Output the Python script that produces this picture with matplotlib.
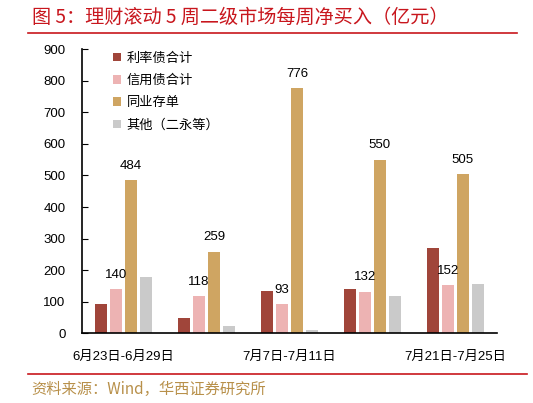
import matplotlib.pyplot as plt
import numpy as np

plt.rcParams['font.family'] = ['Liberation Sans', 'Noto Sans CJK SC', 'DejaVu Sans']

weeks = ["6月23日-6月29日", "6月30日-7月4日", "7月7日-7月11日", "7月14日-7月18日", "7月21日-7月25日"]
series_names = ["利率债合计", "信用债合计", "同业存单", "其他（二永等）"]
rate_bonds = [94, 47, 133, 141, 269]
credit_bonds = [140, 118, 93, 132, 152]
ncd = [484, 259, 776, 550, 505]
others = [178, 24, 9, 118, 156]
colors = ["#A0453A", "#EDB3B3", "#CFA562", "#CACACA"]

fig = plt.figure(figsize=(5.33, 4.03), dpi=100)
ax = fig.add_axes([0.154, 0.173, 0.778, 0.705])

x = np.arange(len(weeks))
w = 0.145
step = 0.18
all_series = [rate_bonds, credit_bonds, ncd, others]
bars = []
for i, vals in enumerate(all_series):
    b = ax.bar(x + (i - 1.5) * step, vals, width=w, color=colors[i], label=series_names[i])
    bars.append(b)

# labels only on credit bonds and NCD
for b in (bars[1], bars[2]):
    for rect in b:
        h = rect.get_height()
        ax.annotate(f"{h:.0f}", (rect.get_x() + rect.get_width() / 2, h),
                    xytext=(0, 6), textcoords="offset points",
                    ha="center", va="bottom", fontsize=9.5)

ax.set_xlim(-0.5, 4.5)
ax.set_ylim(0, 900)
ax.set_yticks(range(0, 901, 100))
ax.set_xticks(x[::2])
ax.set_xticklabels(weeks[::2])
ax.tick_params(axis='y', direction='in', length=4, pad=12, labelsize=9.5)
ax.tick_params(axis='x', length=0, pad=13, labelsize=9.5)
ax.spines['top'].set_visible(False)
ax.spines['right'].set_visible(False)
ax.spines['left'].set_linewidth(1.2)
ax.spines['bottom'].set_linewidth(1.2)

leg = ax.legend(loc='upper left', bbox_to_anchor=(0.045, 1.03), frameon=False,
                handlelength=0.6, handleheight=0.6, handletextpad=0.45,
                labelspacing=0.75, fontsize=9.5)

fig.text(0.06, 0.958, "图 5：理财滚动 5 周二级市场每周净买入（亿元）", color="#C8161D",
         fontsize=13.8, va="center", ha="left", family=['Noto Sans CJK SC', 'DejaVu Sans'])
fig.add_artist(plt.Line2D([0.053, 0.97], [0.918, 0.918], color="#C8161D", lw=1.2, transform=fig.transFigure))
fig.add_artist(plt.Line2D([0.053, 0.988], [0.071, 0.071], color="#C8161D", lw=1.2, transform=fig.transFigure))
fig.text(0.058, 0.033, "资料来源：Wind，华西证券研究所", color="#B8904A",
         fontsize=11, va="center", ha="left", family=['Noto Sans CJK SC', 'DejaVu Sans'])

fig.savefig("out.png", dpi=100)
